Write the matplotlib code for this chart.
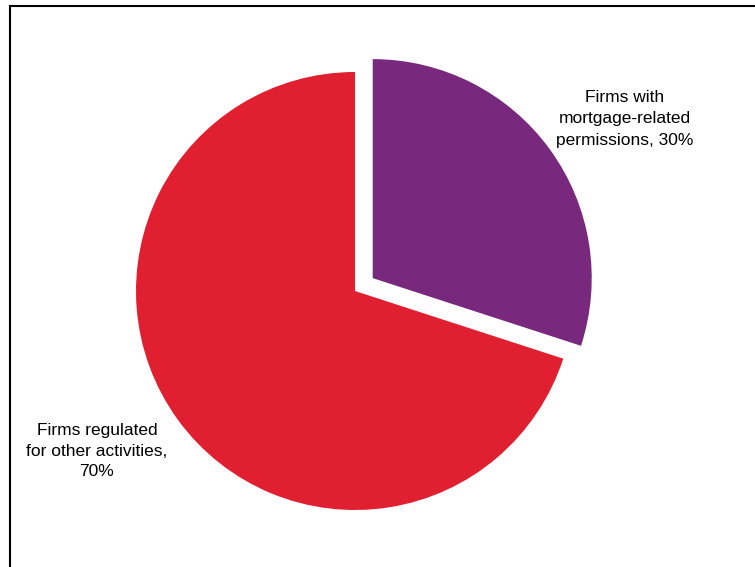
import matplotlib
matplotlib.use("Agg")
from matplotlib import pyplot as plt
from matplotlib.patches import Rectangle

plt.rcParams["font.family"] = ["Liberation Sans", "DejaVu Sans"]

# share of firms by type of permission
labels = ["Firms with\nmortgage-related\npermissions", "Firms regulated\nfor other activities"]
shares = [30, 70]
colours = ["#78287D", "#E01F30"]
pulled_out = [True, False]

R = 219
fig = plt.figure(figsize=(7.55, 5.67), dpi=100)
ax = fig.add_axes([0, 0, 1, 1])

# pie explode is in data units, so scale it by the radius
ax.pie(shares, colors=colours, explode=[0.1 * R if p else 0 for p in pulled_out],
       startangle=90, counterclock=False, radius=R, center=(355, 276),
       wedgeprops=dict(linewidth=0), frame=True)
ax.set_xlim(0, 755)
ax.set_ylim(0, 567)
ax.set_aspect("equal")
ax.axis("off")

# outer box
ax.add_patch(Rectangle((10, -20), 800, 581, fill=False, edgecolor="black",
                       linewidth=1.5, clip_on=False))

ax.text(625, 448, f"{labels[0]}, {shares[0]}%", ha="center", va="center",
        fontsize=12.5, linespacing=1.5)
ax.text(97, 116, f"{labels[1]},\n{shares[1]}%", ha="center", va="center",
        fontsize=12.5, linespacing=1.5)

fig.savefig("out.png", dpi=100)
